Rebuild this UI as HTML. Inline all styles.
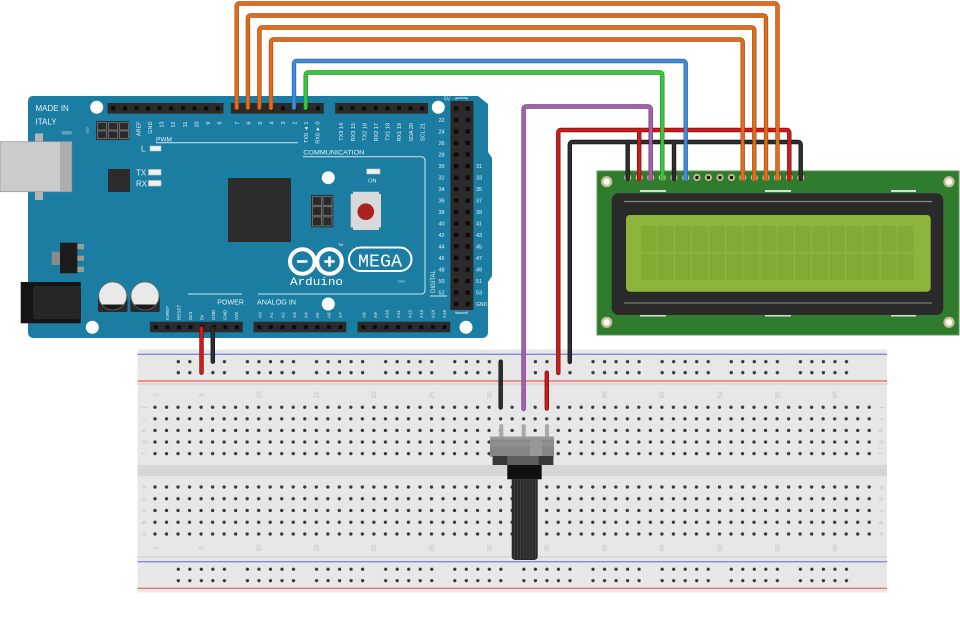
<!DOCTYPE html>
<html><head><meta charset="utf-8"><style>
html,body{margin:0;padding:0;background:#fff;}
svg{display:block;}
text{font-family:"Liberation Sans",sans-serif;}
.w{fill:#e6f2f7;}
.bb{fill:#c2c2c2;font-size:6.5px;}
</style></head><body>
<svg width="960" height="623" viewBox="0 0 960 623" xmlns="http://www.w3.org/2000/svg">
<defs>
 <pattern id="bbTop" patternUnits="userSpaceOnUse" x="149.24" y="401.47" width="11.52" height="11.6">
  <circle cx="5.76" cy="6.4" r="2.1" fill="#fbfbfb"/><circle cx="5.76" cy="5.83" r="1.7" fill="#383838"/>
 </pattern>
 <pattern id="bbBot" patternUnits="userSpaceOnUse" x="149.24" y="481.17" width="11.52" height="11.75">
  <circle cx="5.76" cy="6.4" r="2.1" fill="#fbfbfb"/><circle cx="5.76" cy="5.83" r="1.7" fill="#383838"/>
 </pattern>
 <pattern id="railT" patternUnits="userSpaceOnUse" x="172.54" y="356.2" width="69.12" height="11">
  <g fill="#fbfbfb"><circle cx="5.76" cy="6.1" r="2.1"/><circle cx="17.28" cy="6.1" r="2.1"/><circle cx="28.8" cy="6.1" r="2.1"/><circle cx="40.32" cy="6.1" r="2.1"/><circle cx="51.84" cy="6.1" r="2.1"/></g>
  <g fill="#383838"><circle cx="5.76" cy="5.5" r="1.7"/><circle cx="17.28" cy="5.5" r="1.7"/><circle cx="28.8" cy="5.5" r="1.7"/><circle cx="40.32" cy="5.5" r="1.7"/><circle cx="51.84" cy="5.5" r="1.7"/></g>
 </pattern>
 <pattern id="railB" patternUnits="userSpaceOnUse" x="172.54" y="563.8" width="69.12" height="11.4">
  <g fill="#fbfbfb"><circle cx="5.76" cy="6.1" r="2.1"/><circle cx="17.28" cy="6.1" r="2.1"/><circle cx="28.8" cy="6.1" r="2.1"/><circle cx="40.32" cy="6.1" r="2.1"/><circle cx="51.84" cy="6.1" r="2.1"/></g>
  <g fill="#383838"><circle cx="5.76" cy="5.5" r="1.7"/><circle cx="17.28" cy="5.5" r="1.7"/><circle cx="28.8" cy="5.5" r="1.7"/><circle cx="40.32" cy="5.5" r="1.7"/><circle cx="51.84" cy="5.5" r="1.7"/></g>
 </pattern>
 <pattern id="hp" patternUnits="userSpaceOnUse" x="0" y="0" width="11.6" height="10.6">
  <rect x="3.8" y="3.3" width="4" height="4" fill="#0c0c0c"/>
 </pattern>
 <pattern id="rh" patternUnits="userSpaceOnUse" x="450.4" y="102.75" width="11.5" height="11.5">
  <rect x="3.6" y="3.55" width="4.4" height="4.4" fill="#0c0c0c"/>
 </pattern>
 <pattern id="cells" patternUnits="userSpaceOnUse" x="640.7" y="226" width="17.15" height="27.8">
  <rect x="0" y="0" width="15.7" height="26.5" fill="#82aa34"/>
 </pattern>
 <clipPath id="c1"><circle cx="112.7" cy="296" r="14"/></clipPath>
 <clipPath id="c2"><circle cx="145" cy="296" r="14"/></clipPath>
</defs>

<!-- ================= BREADBOARD ================= -->
<rect x="137.5" y="349.5" width="749.5" height="243" fill="#e7e7e7"/>
<rect x="137.5" y="383" width="749.5" height="2" fill="#d9d9d9"/>
<rect x="137.5" y="556" width="749.5" height="2" fill="#d9d9d9"/>
<rect x="137.5" y="465" width="749.5" height="11" fill="#d6d6d6"/>
<line x1="137.5" y1="354.3" x2="887" y2="354.3" stroke="#8686e2" stroke-width="1.4"/>
<line x1="137.5" y1="381" x2="887" y2="381" stroke="#e87272" stroke-width="1.4"/>
<line x1="137.5" y1="561.7" x2="887" y2="561.7" stroke="#8686e2" stroke-width="1.4"/>
<line x1="137.5" y1="588.3" x2="887" y2="588.3" stroke="#e87272" stroke-width="1.4"/>
<rect x="172.54" y="356.2" width="691.2" height="22" fill="url(#railT)"/>
<rect x="172.54" y="563.8" width="691.2" height="22.8" fill="url(#railB)"/>
<rect x="149.24" y="401.47" width="725.76" height="58" fill="url(#bbTop)"/>
<rect x="149.24" y="481.17" width="725.76" height="58.75" fill="url(#bbBot)"/>
<!-- column numbers -->
<g class="bb" text-anchor="middle">
 <text transform="translate(157.3,395) rotate(-90)">1</text>
 <text transform="translate(203.4,395) rotate(-90)">5</text>
 <text transform="translate(261,395) rotate(-90)">10</text>
 <text transform="translate(318.6,395) rotate(-90)">15</text>
 <text transform="translate(376.2,395) rotate(-90)">20</text>
 <text transform="translate(433.8,395) rotate(-90)">25</text>
 <text transform="translate(491.4,395) rotate(-90)">30</text>
 <text transform="translate(549,395) rotate(-90)">35</text>
 <text transform="translate(606.6,395) rotate(-90)">40</text>
 <text transform="translate(664.2,395) rotate(-90)">45</text>
 <text transform="translate(721.8,395) rotate(-90)">50</text>
 <text transform="translate(779.4,395) rotate(-90)">55</text>
 <text transform="translate(837,395) rotate(-90)">60</text>
 <text transform="translate(157.3,548) rotate(-90)">1</text>
 <text transform="translate(203.4,548) rotate(-90)">5</text>
 <text transform="translate(261,548) rotate(-90)">10</text>
 <text transform="translate(318.6,548) rotate(-90)">15</text>
 <text transform="translate(376.2,548) rotate(-90)">20</text>
 <text transform="translate(433.8,548) rotate(-90)">25</text>
 <text transform="translate(491.4,548) rotate(-90)">30</text>
 <text transform="translate(549,548) rotate(-90)">35</text>
 <text transform="translate(606.6,548) rotate(-90)">40</text>
 <text transform="translate(664.2,548) rotate(-90)">45</text>
 <text transform="translate(721.8,548) rotate(-90)">50</text>
 <text transform="translate(779.4,548) rotate(-90)">55</text>
 <text transform="translate(837,548) rotate(-90)">60</text>
 <!-- row letters -->
 <text transform="translate(146,407.3) rotate(-90)">j</text>
 <text transform="translate(146,419) rotate(-90)">i</text>
 <text transform="translate(146,430.5) rotate(-90)">h</text>
 <text transform="translate(146,442) rotate(-90)">g</text>
 <text transform="translate(146,453.7) rotate(-90)">f</text>
 <text transform="translate(146,487) rotate(-90)">e</text>
 <text transform="translate(146,499) rotate(-90)">d</text>
 <text transform="translate(146,510.7) rotate(-90)">c</text>
 <text transform="translate(146,522.3) rotate(-90)">b</text>
 <text transform="translate(146,534) rotate(-90)">a</text>
 <text transform="translate(883,407.3) rotate(-90)">j</text>
 <text transform="translate(883,419) rotate(-90)">i</text>
 <text transform="translate(883,430.5) rotate(-90)">h</text>
 <text transform="translate(883,442) rotate(-90)">g</text>
 <text transform="translate(883,453.7) rotate(-90)">f</text>
 <text transform="translate(883,487) rotate(-90)">e</text>
 <text transform="translate(883,499) rotate(-90)">d</text>
 <text transform="translate(883,510.7) rotate(-90)">c</text>
 <text transform="translate(883,522.3) rotate(-90)">b</text>
 <text transform="translate(883,534) rotate(-90)">a</text>
</g>

<!-- ================= ARDUINO ================= -->
<path d="M33,96 H478 L488,104 V152 L492,158 V276 L488,282 V332 Q488,338 482,338 H34 Q28,338 28,332 V102 Q28,96 33,96 Z" fill="#1c7da2"/>
<!-- silkscreen lines -->
<g stroke="#cfe5ee" stroke-width="1" fill="none">
 <path d="M156,142.7 H298"/>
 <path d="M303,156.7 H421 Q425,156.7 425,160.7 V290 Q425,294 421,294 H258"/>
 <path d="M188,294 H242"/>
 <path d="M430,296 H447"/>
 <path d="M456,99.5 V98 H467 V99.5"/>
 <path d="M456,311.5 V313 H467 V311.5"/>
</g>
<!-- holes -->
<g fill="#ffffff">
 <circle cx="96.7" cy="107.3" r="6.5"/>
 <circle cx="438.3" cy="107.3" r="6.5"/>
 <circle cx="328.3" cy="177.7" r="6.5"/>
 <circle cx="328.3" cy="304" r="6.5"/>
 <circle cx="92.3" cy="327.3" r="6.5"/>
 <circle cx="466" cy="327.3" r="6.5"/>
</g>
<!-- USB -->
<rect x="35" y="133.5" width="8" height="9" fill="#b4b4b4"/>
<rect x="35" y="191" width="8" height="9" fill="#b4b4b4"/>
<rect x="0" y="141.7" width="60" height="50" fill="#cbcbcb"/>
<rect x="60" y="141.7" width="11.7" height="50" fill="#adadad"/>
<rect x="0" y="141.7" width="71.7" height="50" fill="none" stroke="#999" stroke-width="0.8"/>
<rect x="61.7" y="131" width="10" height="3.5" fill="#5f9fba"/>
<rect x="86" y="127" width="3" height="6.5" fill="#4f93b0"/>
<!-- power jack -->
<rect x="20.7" y="282" width="60" height="41.3" fill="#141414"/>
<rect x="33" y="286" width="48" height="33" rx="3" fill="#262626"/>
<!-- regulator -->
<rect x="51.7" y="251.7" width="8.3" height="13.3" fill="#8a8a8a"/>
<rect x="77" y="244" width="7" height="5.3" fill="#9a9a9a"/>
<rect x="77" y="255.7" width="7" height="5" fill="#9a9a9a"/>
<rect x="77" y="266.7" width="7" height="5.3" fill="#9a9a9a"/>
<rect x="60" y="242.7" width="17.3" height="30.6" fill="#1c1c1c"/>
<!-- capacitors -->
<rect x="98" y="296" width="29.5" height="16" rx="2" fill="#2a2a2a"/>
<rect x="130.3" y="296" width="29.5" height="16" rx="2" fill="#2a2a2a"/>
<circle cx="112.7" cy="296" r="14" fill="#e9e9e9"/>
<circle cx="145" cy="296" r="14" fill="#e9e9e9"/>
<rect x="95" y="304.5" width="36" height="12" fill="#1a1a1a" clip-path="url(#c1)"/>
<rect x="127" y="304.5" width="36" height="12" fill="#1a1a1a" clip-path="url(#c2)"/>
<circle cx="112.7" cy="296" r="14" fill="none" stroke="#6a6a6a" stroke-width="0.8"/>
<circle cx="145" cy="296" r="14" fill="none" stroke="#6a6a6a" stroke-width="0.8"/>
<!-- ICSP 1 -->
<rect x="96" y="121" width="33.3" height="19" fill="#2e2e2e"/>
<g fill="#2a2a2a" stroke="#7a7a7a" stroke-width="0.8">
 <rect x="97.5" y="122.5" width="9" height="7.5"/><rect x="108.5" y="122.5" width="9" height="7.5"/><rect x="119.5" y="122.5" width="9" height="7.5"/>
 <rect x="97.5" y="131" width="9" height="7.5"/><rect x="108.5" y="131" width="9" height="7.5"/><rect x="119.5" y="131" width="9" height="7.5"/>
</g>
<!-- ICSP 2 -->
<rect x="311" y="195" width="22.3" height="32.3" fill="#2e2e2e"/>
<g fill="#2a2a2a" stroke="#7a7a7a" stroke-width="0.8">
 <rect x="312.5" y="196.5" width="9" height="9"/><rect x="323" y="196.5" width="9" height="9"/>
 <rect x="312.5" y="206.7" width="9" height="9"/><rect x="323" y="206.7" width="9" height="9"/>
 <rect x="312.5" y="216.9" width="9" height="9"/><rect x="323" y="216.9" width="9" height="9"/>
</g>
<!-- chips -->
<rect x="108" y="169" width="22" height="23" fill="#2c2c2c"/>
<rect x="228" y="178" width="63" height="64" fill="#2c2c2c"/>
<!-- LEDs -->
<g fill="#efefef" stroke="#b8c8cf" stroke-width="0.6">
 <rect x="150" y="146" width="11" height="5"/>
 <rect x="148.5" y="169.5" width="12.5" height="5.5"/>
 <rect x="148.5" y="180.5" width="12.5" height="5.5"/>
 <rect x="366.7" y="169" width="13.3" height="5"/>
</g>
<!-- reset button -->
<path d="M353,191.7 H379 V194 H381 V227.5 H379 V230 H353 V227.5 H350.7 V194 H353 Z" fill="#d9d9d9"/>
<circle cx="365.8" cy="211.7" r="8.3" fill="#a8231d"/>
<!-- headers -->
<g transform="translate(107.5,103)"><rect width="116" height="10.6" fill="#2b2b2b"/><rect width="116" height="10.6" fill="url(#hp)"/></g>
<g transform="translate(230.9,103)"><rect width="92.8" height="10.6" fill="#2b2b2b"/><rect width="92.8" height="10.6" fill="url(#hp)"/></g>
<g transform="translate(335.2,103)"><rect width="92.8" height="10.6" fill="#2b2b2b"/><rect width="92.8" height="10.6" fill="url(#hp)"/></g>
<g transform="translate(149.9,321.7)"><rect width="92.8" height="10.6" fill="#2b2b2b"/><rect width="92.8" height="10.6" fill="url(#hp)"/></g>
<g transform="translate(253.5,321.7)"><rect width="92.8" height="10.6" fill="#2b2b2b"/><rect width="92.8" height="10.6" fill="url(#hp)"/></g>
<g transform="translate(357.5,321.7)"><rect width="92.8" height="10.6" fill="#2b2b2b"/><rect width="92.8" height="10.6" fill="url(#hp)"/></g>
<rect x="450.4" y="101" width="23" height="209" fill="#2b2b2b"/>
<rect x="450.4" y="101" width="23" height="209" fill="url(#rh)"/>
<!-- labels -->
<g class="w" font-size="8">
 <text x="35.5" y="111">MADE IN</text>
 <text x="35.5" y="124.3">ITALY</text>
 <text x="136" y="175.7">TX</text>
 <text x="136" y="186.7">RX</text>
 <text x="141" y="151.7">L</text>
</g>
<g class="w" font-size="6.5">
 <text x="156" y="141.3">PWM</text>
 <text x="303.3" y="154.3" textLength="61" lengthAdjust="spacingAndGlyphs">COMMUNICATION</text>
</g>
<g class="w" font-size="7.3">
 <text x="217.3" y="304.3" textLength="26.7" lengthAdjust="spacingAndGlyphs">POWER</text>
 <text x="257" y="304.3" textLength="39" lengthAdjust="spacingAndGlyphs">ANALOG IN</text>
</g>
<text class="w" x="372.3" y="182.3" font-size="5.5" text-anchor="middle">ON</text>
<text class="w" x="444" y="100.5" font-size="5">5V</text>
<text class="w" x="476" y="306" font-size="5">GND</text>
<text class="w" font-size="6" transform="translate(434.8,293) rotate(-90)">DIGITAL</text>
<!-- top header labels -->
<g class="w" font-size="5.5" text-anchor="end">
 <text transform="translate(140.5,121.5) rotate(-90)">AREF</text>
 <text transform="translate(152,121.5) rotate(-90)">GND</text>
 <text transform="translate(163.6,121.5) rotate(-90)">13</text>
 <text transform="translate(175.2,121.5) rotate(-90)">12</text>
 <text transform="translate(186.8,121.5) rotate(-90)">11</text>
 <text transform="translate(198.4,121.5) rotate(-90)">10</text>
 <text transform="translate(210,121.5) rotate(-90)">9</text>
 <text transform="translate(221.6,121.5) rotate(-90)">8</text>
 <text transform="translate(238.9,121.5) rotate(-90)">7</text>
 <text transform="translate(250.4,121.5) rotate(-90)">6</text>
 <text transform="translate(262,121.5) rotate(-90)">5</text>
 <text transform="translate(273.5,121.5) rotate(-90)">4</text>
 <text transform="translate(285.1,121.5) rotate(-90)">3</text>
 <text transform="translate(296.6,121.5) rotate(-90)">2</text>
 <text transform="translate(308.2,121.5) rotate(-90)">TX0 ◄ 1</text>
 <text transform="translate(319.7,121.5) rotate(-90)">RX0 ► 0</text>
 <text transform="translate(343.2,123) rotate(-90)">TX3 14</text>
 <text transform="translate(354.8,123) rotate(-90)">RX3 15</text>
 <text transform="translate(366.4,123) rotate(-90)">TX2 16</text>
 <text transform="translate(378,123) rotate(-90)">RX2 17</text>
 <text transform="translate(389.6,123) rotate(-90)">TX1 18</text>
 <text transform="translate(401.2,123) rotate(-90)">RX1 19</text>
 <text transform="translate(412.8,123) rotate(-90)">SDA 20</text>
 <text transform="translate(424.4,123) rotate(-90)">SCL 21</text>
</g>
<!-- bottom header labels -->
<g class="w" font-size="4.6">
 <text transform="translate(169,320) rotate(-90)">IOREF</text>
 <text transform="translate(180.6,320) rotate(-90)">RESET</text>
 <text transform="translate(192,320) rotate(-90)">3V3</text>
 <text transform="translate(203.5,320) rotate(-90)">5V</text>
 <text transform="translate(214.9,320) rotate(-90)">GND</text>
 <text transform="translate(226.4,320) rotate(-90)">GND</text>
 <text transform="translate(237.9,320) rotate(-90)">VIN</text>
 <text transform="translate(261.3,318) rotate(-90)">A0</text>
 <text transform="translate(272.8,318) rotate(-90)">A1</text>
 <text transform="translate(284.4,318) rotate(-90)">A2</text>
 <text transform="translate(295.9,318) rotate(-90)">A3</text>
 <text transform="translate(307.4,318) rotate(-90)">A4</text>
 <text transform="translate(319,318) rotate(-90)">A5</text>
 <text transform="translate(330.5,318) rotate(-90)">A6</text>
 <text transform="translate(342,318) rotate(-90)">A7</text>
 <text transform="translate(365.3,318) rotate(-90)">A8</text>
 <text transform="translate(376.8,318) rotate(-90)">A9</text>
 <text transform="translate(388.4,318) rotate(-90)">A10</text>
 <text transform="translate(399.9,318) rotate(-90)">A11</text>
 <text transform="translate(411.4,318) rotate(-90)">A12</text>
 <text transform="translate(423,318) rotate(-90)">A13</text>
 <text transform="translate(434.5,318) rotate(-90)">A14</text>
 <text transform="translate(446,318) rotate(-90)">A15</text>
</g>
<!-- right header numbers -->
<g class="w" font-size="5.5" text-anchor="middle">
 <text x="441.5" y="122">22</text><text x="441.5" y="133.5">24</text><text x="441.5" y="145">26</text><text x="441.5" y="156.5">28</text>
 <text x="441.5" y="168">30</text><text x="441.5" y="179.5">32</text><text x="441.5" y="191">34</text><text x="441.5" y="202.5">36</text>
 <text x="441.5" y="214">38</text><text x="441.5" y="225.5">40</text><text x="441.5" y="237">42</text><text x="441.5" y="248.5">44</text>
 <text x="441.5" y="260">46</text><text x="441.5" y="271.5">48</text><text x="441.5" y="283">50</text><text x="441.5" y="294.5">52</text>
 <text x="479" y="168">31</text><text x="479" y="179.5">33</text><text x="479" y="191">35</text><text x="479" y="202.5">37</text>
 <text x="479" y="214">39</text><text x="479" y="225.5">41</text><text x="479" y="237">43</text><text x="479" y="248.5">45</text>
 <text x="479" y="260">47</text><text x="479" y="271.5">49</text><text x="479" y="283">51</text><text x="479" y="294.5">53</text>
</g>
<!-- arduino logo -->
<g fill="none" stroke="#ffffff" stroke-width="4">
 <circle cx="302.3" cy="261.5" r="12.3"/>
 <circle cx="329.5" cy="261.5" r="12.3"/>
</g>
<g stroke="#ffffff" stroke-width="2.6">
 <line x1="297" y1="261.5" x2="307.5" y2="261.5"/>
 <line x1="324.3" y1="261.5" x2="334.7" y2="261.5"/>
 <line x1="329.5" y1="256.3" x2="329.5" y2="266.7"/>
</g>
<text x="290" y="285" fill="#fff" font-size="11" textLength="53" lengthAdjust="spacingAndGlyphs" style="font-family:'Liberation Mono',monospace">Arduino</text>
<rect x="349" y="247.5" width="62.5" height="23.5" rx="11.7" fill="none" stroke="#fff" stroke-width="2"/>
<text x="358" y="266.5" fill="#fff" font-size="18" textLength="44" lengthAdjust="spacingAndGlyphs" style="font-family:'Liberation Mono',monospace">MEGA</text>
<text x="338" y="246" fill="#fff" font-size="3.5">TM</text>
<text x="398" y="282.5" fill="#cfe5ee" font-size="4">cmc</text>

<!-- ================= LCD ================= -->
<rect x="597" y="171" width="362" height="164" fill="#2f7c2e" stroke="#5a9855" stroke-width="1"/>
<g fill="#cdbf96">
 <circle cx="606.7" cy="181.7" r="5.6"/><circle cx="949" cy="181.7" r="5.6"/>
 <circle cx="606.7" cy="322.3" r="5.6"/><circle cx="949" cy="322.3" r="5.6"/>
</g>
<g fill="#ffffff">
 <circle cx="606.7" cy="181.7" r="3.2"/><circle cx="949" cy="181.7" r="3.2"/>
 <circle cx="606.7" cy="322.3" r="3.2"/><circle cx="949" cy="322.3" r="3.2"/>
</g>
<g fill="#cde6c8">
 <rect x="640" y="190" width="26" height="2"/><rect x="765" y="190" width="26" height="2"/><rect x="891" y="190" width="25" height="2"/>
 <rect x="640" y="314.5" width="26" height="2"/><rect x="765" y="314.5" width="26" height="2"/><rect x="891" y="314.5" width="25" height="2"/>
</g>
<rect x="611.7" y="193.3" width="331.6" height="121.7" rx="7" fill="#2a2a2a"/>
<line x1="624" y1="201.5" x2="932" y2="201.5" stroke="#8a8a8a" stroke-width="1.2"/>
<line x1="624" y1="303" x2="932" y2="303" stroke="#7a7a7a" stroke-width="1.2"/>
<rect x="626" y="215" width="304.7" height="76.7" rx="4" fill="#8db53c"/>
<rect x="640.7" y="226" width="274.4" height="54.3" fill="url(#cells)"/>
<!-- LCD pads -->
<g fill="#cbbd91">
 <circle cx="627.7" cy="177.5" r="3.6"/><circle cx="639.2" cy="177.5" r="3.6"/><circle cx="650.7" cy="177.5" r="3.6"/><circle cx="662.3" cy="177.5" r="3.6"/>
 <circle cx="674" cy="177.5" r="3.6"/><circle cx="685.7" cy="177.5" r="3.6"/><circle cx="696.9" cy="177.5" r="3.6"/><circle cx="708.4" cy="177.5" r="3.6"/>
 <circle cx="720" cy="177.5" r="3.6"/><circle cx="731.5" cy="177.5" r="3.6"/><circle cx="742.7" cy="177.5" r="3.6"/><circle cx="754.3" cy="177.5" r="3.6"/>
 <circle cx="766" cy="177.5" r="3.6"/><circle cx="777.5" cy="177.5" r="3.6"/><circle cx="789.3" cy="177.5" r="3.6"/><circle cx="800.7" cy="177.5" r="3.6"/>
</g>
<g fill="#111">
 <circle cx="696.9" cy="177.5" r="1.7"/><circle cx="708.4" cy="177.5" r="1.7"/><circle cx="720" cy="177.5" r="1.7"/><circle cx="731.5" cy="177.5" r="1.7"/>
</g>

<!-- ================= POTENTIOMETER ================= -->
<g fill="#a9a9a9">
 <rect x="499.3" y="424.3" width="4" height="13"/>
 <rect x="521.7" y="424.3" width="4" height="13"/>
 <rect x="545" y="424.3" width="4" height="13"/>
</g>
<rect x="490" y="436.7" width="64" height="20" fill="#858585"/>
<rect x="490" y="436.7" width="64" height="3" fill="#9a9a9a"/>
<rect x="490" y="441.5" width="64" height="5" fill="#8f8f8f"/>
<rect x="530" y="436.7" width="12" height="20" fill="#989898"/>
<rect x="492.7" y="456" width="60.6" height="9" fill="#5e5e5e"/>
<rect x="492.7" y="456" width="14.6" height="9" fill="#383838"/>
<rect x="538.7" y="456" width="14.6" height="9" fill="#383838"/>
<rect x="507.3" y="465" width="34.4" height="14.3" fill="#111"/>
<path d="M511.7,479.3 H537.7 V556 Q537.7,560 533.7,560 H515.7 Q511.7,560 511.7,556 Z" fill="#2a2a2a"/>
<g stroke="#454545" stroke-width="0.8">
 <line x1="514.5" y1="480" x2="514.5" y2="558"/><line x1="517.5" y1="480" x2="517.5" y2="559"/>
 <line x1="520.5" y1="480" x2="520.5" y2="559"/><line x1="523.5" y1="480" x2="523.5" y2="559"/>
 <line x1="526.5" y1="480" x2="526.5" y2="559"/><line x1="529.5" y1="480" x2="529.5" y2="559"/>
 <line x1="532.5" y1="480" x2="532.5" y2="559"/><line x1="535.5" y1="480" x2="535.5" y2="558"/>
</g>

<!-- ================= WIRES ================= -->
<g fill="none" stroke-linecap="round" stroke-linejoin="round">
 <g stroke-width="4.4">
  <path stroke="#111" d="M569.8,362 V145 Q569.8,142 572.8,142 H797.7 Q800.7,142 800.7,145 V179"/>
  <path stroke="#111" d="M627.7,142 V179 M674,142 V179"/>
  <path stroke="#111" d="M212.8,328 V361.7 M500.7,361.7 V407.5"/>
  <path stroke="#7e0d0d" d="M558.3,373 V133 Q558.3,130 561.3,130 H786.3 Q789.3,130 789.3,133 V179"/>
  <path stroke="#7e0d0d" d="M639.2,130 V179 M201.5,328 V372.7 M546.8,372.7 V408.5"/>
  <path stroke="#6e3a78" d="M523.6,409 V109.5 Q523.6,106.5 526.6,106.5 H647.7 Q650.7,106.5 650.7,109.5 V179"/>
  <path stroke="#1f8a26" d="M305.7,108 V75.5 Q305.7,72.5 308.7,72.5 H659.3 Q662.3,72.5 662.3,75.5 V179"/>
  <path stroke="#2a62a3" d="M294,108 V64 Q294,61 297,61 H682.7 Q685.7,61 685.7,64 V179"/>
  <path stroke="#a44a10" d="M271,108 V42.5 Q271,39.5 274,39.5 H739.7 Q742.7,39.5 742.7,42.5 V179"/>
  <path stroke="#a44a10" d="M259.4,108 V30.5 Q259.4,27.5 262.4,27.5 H751.3 Q754.3,27.5 754.3,30.5 V179"/>
  <path stroke="#a44a10" d="M247.9,108 V18.5 Q247.9,15.5 250.9,15.5 H763 Q766,15.5 766,18.5 V179"/>
  <path stroke="#a44a10" d="M236.7,108 V6.5 Q236.7,3.5 239.7,3.5 H774.5 Q777.5,3.5 777.5,6.5 V179"/>
 </g>
 <g stroke-width="3">
  <path stroke="#2f2f2f" d="M569.8,362 V145 Q569.8,142 572.8,142 H797.7 Q800.7,142 800.7,145 V179"/>
  <path stroke="#2f2f2f" d="M627.7,142 V179 M674,142 V179"/>
  <path stroke="#2f2f2f" d="M212.8,328 V361.7 M500.7,361.7 V407.5"/>
  <path stroke="#cc1b1b" d="M558.3,373 V133 Q558.3,130 561.3,130 H786.3 Q789.3,130 789.3,133 V179"/>
  <path stroke="#cc1b1b" d="M639.2,130 V179 M201.5,328 V372.7 M546.8,372.7 V408.5"/>
  <path stroke="#a65eb0" d="M523.6,409 V109.5 Q523.6,106.5 526.6,106.5 H647.7 Q650.7,106.5 650.7,109.5 V179"/>
  <path stroke="#3cc63f" d="M305.7,108 V75.5 Q305.7,72.5 308.7,72.5 H659.3 Q662.3,72.5 662.3,75.5 V179"/>
  <path stroke="#418ddb" d="M294,108 V64 Q294,61 297,61 H682.7 Q685.7,61 685.7,64 V179"/>
  <path stroke="#e06c1e" d="M271,108 V42.5 Q271,39.5 274,39.5 H739.7 Q742.7,39.5 742.7,42.5 V179"/>
  <path stroke="#e06c1e" d="M259.4,108 V30.5 Q259.4,27.5 262.4,27.5 H751.3 Q754.3,27.5 754.3,30.5 V179"/>
  <path stroke="#e06c1e" d="M247.9,108 V18.5 Q247.9,15.5 250.9,15.5 H763 Q766,15.5 766,18.5 V179"/>
  <path stroke="#e06c1e" d="M236.7,108 V6.5 Q236.7,3.5 239.7,3.5 H774.5 Q777.5,3.5 777.5,6.5 V179"/>
 </g>
</g>
</svg>
</body></html>
